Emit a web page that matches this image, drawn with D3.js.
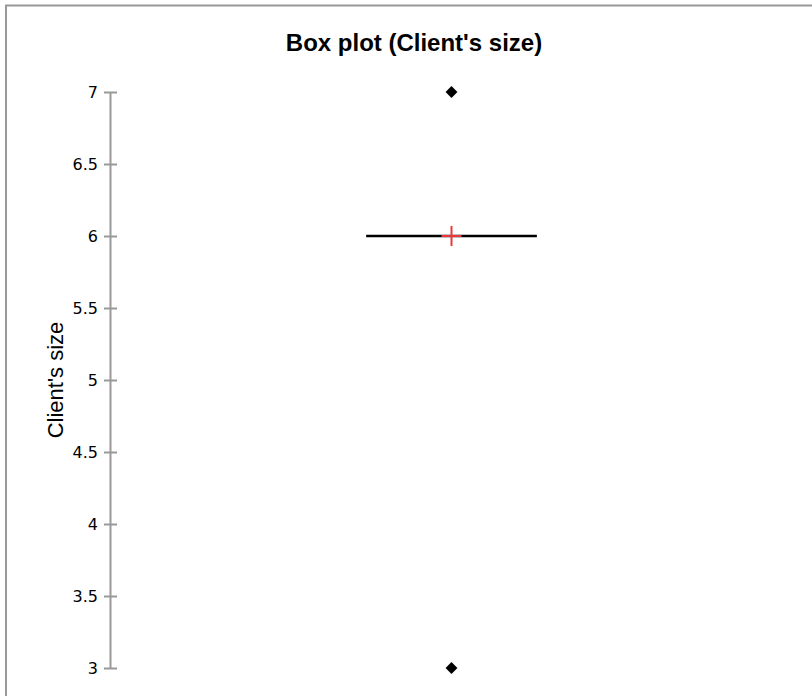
<!DOCTYPE html>
<html>
<head>
<meta charset="utf-8">
<script src="https://cdn.jsdelivr.net/npm/d3@7"></script>
<style>
    body { margin: 0; background: #fff; }
</style>
</head>
<body>
<script>
const width = 812;
const height = 696;

// data
const categories = ["Client's size"];
const q1 = [6];
const median = [6];
const q3 = [6];
const whiskerLow = [6];
const whiskerHigh = [6];
const means = [6];
const outliers = [[7, 3]];
const yTicks = [3, 3.5, 4, 4.5, 5, 5.5, 6, 6.5, 7];

const margin = { top: 92, right: 19, bottom: 28, left: 110 };

const svg = d3
    .select("body")
    .append("svg")
    .attr("width", width)
    .attr("height", height);

// frame around the chart (cropped at the right and bottom)
svg.append("rect")
    .attr("x", 6)
    .attr("y", 5.5)
    .attr("width", 900)
    .attr("height", 900)
    .attr("fill", "none")
    .attr("stroke", "#999")
    .attr("stroke-width", 2);

const y = d3
    .scaleLinear()
    .domain([3, 7])
    .range([height - margin.bottom, margin.top]);

const x = d3
    .scaleBand()
    .domain(categories)
    .range([margin.left, width - margin.right])
    .paddingInner(0)
    .paddingOuter(1.5);

// y axis
const yAxis = svg
    .append("g")
    .attr("transform", `translate(${margin.left},0)`)
    .call(d3.axisLeft(y).tickValues(yTicks).tickFormat(d3.format("")).tickSizeOuter(0));

yAxis.select(".domain").attr("stroke", "#999").attr("stroke-width", 2);
yAxis.selectAll(".tick line")
    .attr("x1", -6)
    .attr("x2", 7)
    .attr("stroke", "#999")
    .attr("stroke-width", 2);
yAxis.selectAll(".tick text")
    .attr("x", -12)
    .attr("fill", "#000")
    .style("font-family", "DejaVu Sans")
    .style("font-size", "16px");

// y axis title
svg.append("text")
    .attr("transform", `translate(63, ${(margin.top + height - margin.bottom) / 2}) rotate(-90)`)
    .attr("text-anchor", "middle")
    .style("font-family", "Liberation Sans, Arial")
    .style("font-size", "22px")
    .attr("fill", "#000")
    .text("Client's size");

// chart title
svg.append("text")
    .attr("x", 414)
    .attr("y", 51)
    .attr("text-anchor", "middle")
    .style("font-family", "Liberation Sans, Arial")
    .style("font-size", "24px")
    .style("font-weight", "bold")
    .attr("fill", "#000")
    .text("Box plot (Client's size)");

const boxes = svg
    .selectAll(".box")
    .data(categories)
    .enter()
    .append("g")
    .attr("class", "box");

// box (collapsed since q1 == q3)
boxes.append("rect")
    .attr("x", (d) => x(d))
    .attr("y", (d, i) => y(q3[i]))
    .attr("width", x.bandwidth())
    .attr("height", (d, i) => y(q1[i]) - y(q3[i]))
    .attr("fill", "none")
    .attr("stroke", "#000")
    .attr("stroke-width", 1);

// whiskers
boxes.append("line")
    .attr("x1", (d) => x(d) + x.bandwidth() / 2)
    .attr("x2", (d) => x(d) + x.bandwidth() / 2)
    .attr("y1", (d, i) => y(whiskerLow[i]))
    .attr("y2", (d, i) => y(q1[i]))
    .attr("stroke", "#000");
boxes.append("line")
    .attr("x1", (d) => x(d) + x.bandwidth() / 2)
    .attr("x2", (d) => x(d) + x.bandwidth() / 2)
    .attr("y1", (d, i) => y(whiskerHigh[i]))
    .attr("y2", (d, i) => y(q3[i]))
    .attr("stroke", "#000");

// median
boxes.append("line")
    .attr("x1", (d) => x(d))
    .attr("x2", (d) => x(d) + x.bandwidth())
    .attr("y1", (d, i) => y(median[i]))
    .attr("y2", (d, i) => y(median[i]))
    .attr("stroke", "#000")
    .attr("stroke-width", 2.5);

// mean marker
const crossSize = 10;
boxes.append("line")
    .attr("x1", (d) => x(d) + x.bandwidth() / 2 - crossSize)
    .attr("x2", (d) => x(d) + x.bandwidth() / 2 + crossSize)
    .attr("y1", (d, i) => y(means[i]))
    .attr("y2", (d, i) => y(means[i]))
    .attr("stroke", "#e8383d")
    .attr("stroke-width", 2);
boxes.append("line")
    .attr("x1", (d) => x(d) + x.bandwidth() / 2)
    .attr("x2", (d) => x(d) + x.bandwidth() / 2)
    .attr("y1", (d, i) => y(means[i]) - crossSize)
    .attr("y2", (d, i) => y(means[i]) + crossSize)
    .attr("stroke", "#e8383d")
    .attr("stroke-width", 2);

// outliers
boxes.each(function (d, i) {
    d3.select(this)
        .selectAll(".outlier")
        .data(outliers[i])
        .enter()
        .append("path")
        .attr("class", "outlier")
        .attr("d", d3.symbol(d3.symbolDiamond2, 90))
        .attr("transform", (v) => `translate(${x(d) + x.bandwidth() / 2},${y(v)})`)
        .attr("fill", "#000");
});
</script>
</body>
</html>
